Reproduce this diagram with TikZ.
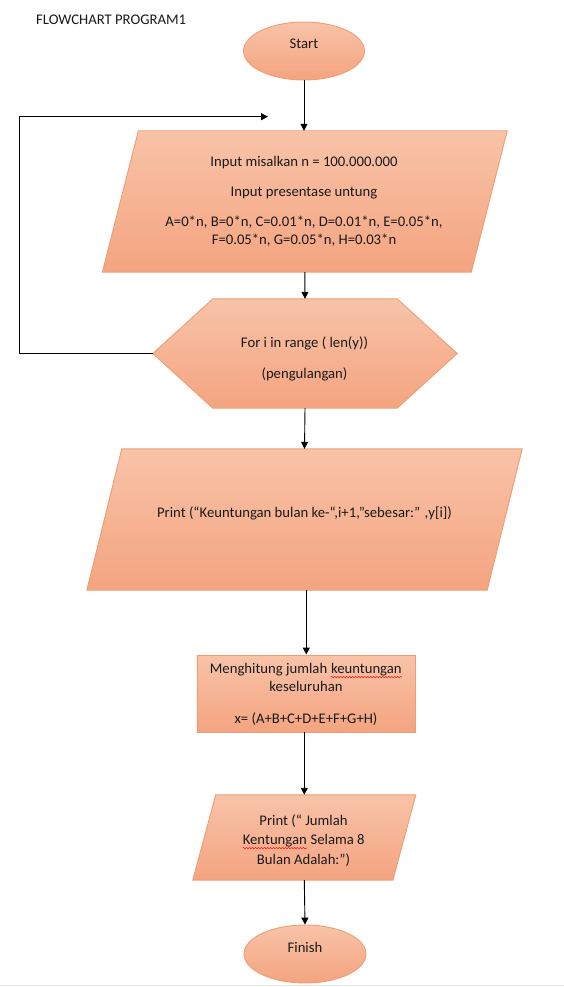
\documentclass[tikz,border=0pt]{standalone}
\usepackage{fontspec}
\setmainfont{Carlito}
\usetikzlibrary{shapes.geometric,arrows.meta,backgrounds,calc,decorations.pathmorphing}
\definecolor{topc}{HTML}{F8C3A8}
\definecolor{botc}{HTML}{F4A480}
\definecolor{edgec}{HTML}{EE9E72}
\definecolor{txt}{HTML}{1A1A1A}
\newcommand{\spellmark}[1]{\tikz[baseline=(w.base)]{\node[inner sep=0pt,anchor=base] (w) at (0,0) {#1};
  \draw[red,line width=0.5pt,decorate,decoration={snake,amplitude=0.7pt,segment length=3pt}] ([yshift=-3.6pt]w.base west) -- ([yshift=-3.6pt]w.base east);}}
\begin{document}
\begin{tikzpicture}[x=1pt,y=-1pt,
  fillst/.style={top color=topc,bottom color=botc,draw=edgec,line width=0.9pt},
  frame/.style={inner sep=0pt,draw=none},
  lbl/.style={font=\fontsize{14.7}{17.6}\selectfont,text=txt,inner sep=0pt,anchor=base},
  arr/.style={-{Triangle[length=7pt,width=7pt]},line width=0.9pt,black}]
\useasboundingbox (0,0) rectangle (564,987);
\draw[gray!20,line width=0.8pt] (0,985.5) -- (564,985.5);

% title
\node[lbl,anchor=base west] (title) at (36,25) {FLOWCHART PROGRAM1};

% start
\node[ellipse,fillst,minimum width=121,minimum height=58,inner sep=0pt] (start) at (304,51) {};
\node[lbl] (starttxt) at (304,49) {Start};

% input parallelogram
\node[frame,minimum width=404.5,minimum height=141] (in1) at (304.8,201.5) {};
\node[lbl] (in1a) at (304,166.5) {Input misalkan n = 100.000.000};
\node[lbl] (in1b) at (304,196.5) {Input presentase untung};
\node[lbl] (in1c) at (304,226.5) {A=0*n, B=0*n, C=0.01*n, D=0.01*n, E=0.05*n,};
\node[lbl] (in1d) at (304,244.5) {F=0.05*n, G=0.05*n, H=0.03*n};

% hexagon loop
\node[frame,minimum width=304,minimum height=109] (hex) at (305,353.5) {};
\node[lbl] (hexa) at (304.5,347.5) {For i in range ( len(y))};
\node[lbl] (hexb) at (304.5,378.5) {(pengulangan)};

% print parallelogram
\node[frame,minimum width=435,minimum height=141] (pr1) at (304.5,519.5) {};
\node[lbl] (pr1a) at (304.5,517.5) {Print (“Keuntungan bulan ke-“,i+1,”sebesar:” ,y[i])};

% calc rectangle
\node[rectangle,fillst,minimum width=218.7,minimum height=77,inner sep=0pt] (calc) at (306.3,693.5) {};
\node[lbl] (calca) at (306,673.5) {Menghitung jumlah \spellmark{keuntungan}};
\node[lbl] (calcb) at (306,691.5) {keseluruhan};
\node[lbl] (calcc) at (306,723.5) {x= (A+B+C+D+E+F+G+H)};

% print 2 parallelogram
\node[frame,minimum width=222.7,minimum height=85] (pr2) at (304.3,837.5) {};
\node[lbl] (pr2a) at (303.5,825) {Print (“ Jumlah};
\node[lbl] (pr2b) at (303.5,844.5) {\spellmark{Kentungan} Selama 8};
\node[lbl] (pr2c) at (303.5,864.5) {Bulan Adalah:”)};

% finish
\node[ellipse,fillst,minimum width=122,minimum height=58,inner sep=0pt] (finish) at (305,954) {};
\node[lbl] (fintxt) at (305,952.5) {Finish};

\begin{scope}[on background layer]
  \path[fillst] ($(in1.north west)+(36,0)$) -- (in1.north east) -- ($(in1.south east)+(-36,0)$) -- (in1.south west) -- cycle;
  \path[fillst] (hex.west) -- ($(hex.north west)+(60,0)$) -- ($(hex.north east)+(-60,0)$) -- (hex.east) -- ($(hex.south east)+(-60,0)$) -- ($(hex.south west)+(60,0)$) -- cycle;
  \path[fillst] ($(pr1.north west)+(35,0)$) -- (pr1.north east) -- ($(pr1.south east)+(-35,0)$) -- (pr1.south west) -- cycle;
  \path[fillst] ($(pr2.north west)+(23,0)$) -- (pr2.north east) -- ($(pr2.south east)+(-23,0)$) -- (pr2.south west) -- cycle;
\end{scope}

% connectors
\coordinate (loopcorner) at (19,116.7);
\coordinate (loopend) at (268,116.7);
\draw[arr] (start.south) -- (start.south |- in1.north);
\draw[arr] (in1.south) -- (hex.north);
\draw[arr] (hex.south) -- (pr1.north);
\draw[arr] (calc.north |- pr1.south) -- (calc.north);
\draw[arr] (pr2.north |- calc.south) -- (pr2.north);
\draw[arr] (pr2.south) -- (finish.north);
\draw[arr] (hex.west) -| (loopcorner) -- (loopend);
\end{tikzpicture}
\end{document}
